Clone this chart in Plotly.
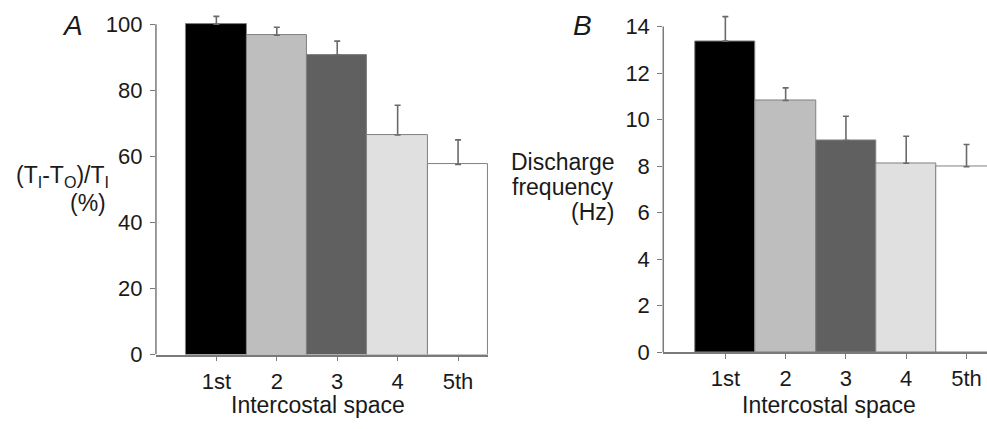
import plotly.graph_objects as go

categories = ["1st", "2", "3", "4", "5th"]
ratio_mean = [100, 96.7, 90.7, 66.5, 57.6]
ratio_err = [2.4, 2.4, 4.2, 9.0, 7.4]
freq_mean = [13.37, 10.82, 9.10, 8.12, 7.97]
freq_err = [1.05, 0.54, 1.04, 1.16, 0.96]
bar_colors = ["#000000", "#bebebe", "#606060", "#e0e0e0", "#ffffff"]
ratio_ticks = [0, 20, 40, 60, 80, 100]
freq_ticks = [0, 2, 4, 6, 8, 10, 12, 14]

FONT = "Liberation Sans, Arial, sans-serif"
AXC = "#7a7a7a"
TXT = "#1a1a1a"
W, H = 987, 429

fig = go.Figure()

for vals, errs, xa, ya in [(ratio_mean, ratio_err, "x", "y"), (freq_mean, freq_err, "x2", "y2")]:
    fig.add_trace(go.Bar(
        x=categories, y=vals, xaxis=xa, yaxis=ya, width=1,
        marker=dict(color=bar_colors, line=dict(color="#808080", width=1)),
        error_y=dict(type="data", symmetric=False, array=errs, arrayminus=[0] * len(errs),
                     color="#6a6a6a", thickness=1.6, width=3),
        showlegend=False,
    ))

xcommon = dict(type="category", showline=True, linecolor=AXC, linewidth=1.5,
               ticks="outside", ticklen=5, tickwidth=1.2, tickcolor=AXC,
               tickfont=dict(family=FONT, size=22, color=TXT), showgrid=False,
               zeroline=False, ticklabelstandoff=1)
ycommon = dict(showline=False, ticks="outside", ticklen=5, tickwidth=1.2, tickcolor=AXC,
               tickfont=dict(family=FONT, size=22, color=TXT), showgrid=False,
               zeroline=False, ticklabelstandoff=3)

fig.update_layout(
    width=W, height=H,
    margin=dict(l=0, r=0, t=0, b=0),
    paper_bgcolor="white", plot_bgcolor="white",
    bargap=0,
    xaxis=dict(xcommon, domain=[0.158, 0.4947], range=[-1, 4.5], anchor="y"),
    yaxis=dict(ycommon, domain=[0.1476, 0.9734], range=[0, 104], tickvals=ratio_ticks, anchor="x"),
    xaxis2=dict(xcommon, domain=[0.672, 1.0], range=[-1.03, 4.34], anchor="y2"),
    yaxis2=dict(ycommon, domain=[0.1531, 0.970], range=[0, 14.6], tickvals=freq_ticks, anchor="x2"),
)

# y axis lines ending at the top tick
fig.add_shape(type="line", xref="x domain", yref="y", x0=0, x1=0, y0=0, y1=ratio_ticks[-1],
              line=dict(color=AXC, width=1.5))
fig.add_shape(type="line", xref="x2 domain", yref="y2", x0=0, x1=0, y0=0, y1=freq_ticks[-1],
              line=dict(color=AXC, width=1.5))

tfont = dict(family=FONT, size=23, color=TXT)
annots = [
    dict(text="<i>A</i>", x=72, y=26, font=dict(family=FONT, size=28, color=TXT), xanchor="center"),
    dict(text="<i>B</i>", x=582, y=26, font=dict(family=FONT, size=28, color=TXT), xanchor="center"),
    dict(text="(T<sub>I</sub>-T<sub>O</sub>)/T<sub>I</sub>", x=111, y=182, font=tfont, xanchor="right"),
    dict(text="(%)", x=108, y=209, font=tfont, xanchor="right"),
    dict(text="Discharge", x=617, y=167, font=tfont, xanchor="right"),
    dict(text="frequency", x=616, y=193, font=tfont, xanchor="right"),
    dict(text="(Hz)", x=616, y=219, font=tfont, xanchor="right"),
    dict(text="Intercostal space", x=318, y=418, font=tfont, xanchor="center"),
    dict(text="Intercostal space", x=829, y=418, font=tfont, xanchor="center"),
]
for a in annots:
    fig.add_annotation(text=a["text"], x=a["x"] / W, y=1 - a["y"] / H, xref="paper", yref="paper",
                       xanchor=a["xanchor"], yanchor="middle", showarrow=False, font=a["font"])

post = (
    "[document.documentElement, document.body].forEach(function(e){"
    "e.style.margin='0';e.style.padding='0';e.style.overflow='hidden';});"
)
fig.write_html("out.html", config={"displayModeBar": False}, post_script=post)
